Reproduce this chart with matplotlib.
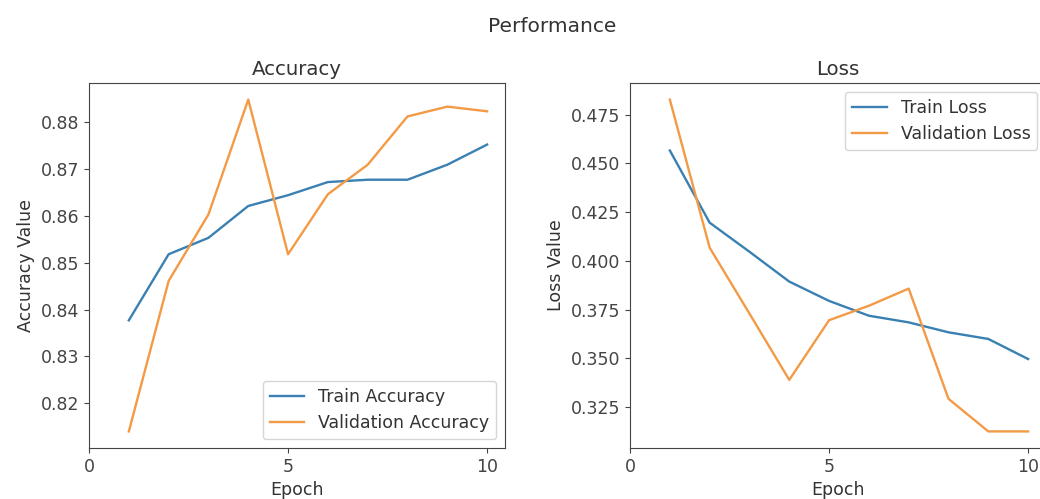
import matplotlib
matplotlib.use("Agg")
import matplotlib.pyplot as plt

epochs = [1, 2, 3, 4, 5, 6, 7, 8, 9, 10]
train_acc = [0.8377, 0.8518, 0.8553, 0.8621, 0.8644, 0.8672, 0.8677, 0.8677, 0.8709, 0.8752]
val_acc = [0.8140, 0.8461, 0.8603, 0.8848, 0.8518, 0.8646, 0.8709, 0.8812, 0.8833, 0.8823]
train_loss = [0.4566, 0.4196, 0.4047, 0.3894, 0.3795, 0.3719, 0.3685, 0.3634, 0.3600, 0.3497]
val_loss = [0.4827, 0.4068, 0.3730, 0.3390, 0.3696, 0.3770, 0.3858, 0.3293, 0.3126, 0.3126]

text_color = "#333333"
plt.rcParams.update({
    'font.size': 12.5,
    'text.color': text_color,
    'axes.labelcolor': text_color,
    'xtick.color': '#444444',
    'ytick.color': '#444444',
    'axes.edgecolor': '#444444',
})
blue = "#3a80b3"
orange = "#f39a46"

fig = plt.figure(figsize=(10.4, 4.99), dpi=100)
fig.suptitle("Performance", x=0.531, y=0.965, fontsize=14.5)

ax1 = fig.add_axes([0.0856, 0.1022, 0.40, 0.7315])
ax2 = fig.add_axes([0.6058, 0.1022, 0.40, 0.7315])

lw = 1.7
ax1.plot(epochs, train_acc, color=blue, lw=lw, label="Train Accuracy")
ax1.plot(epochs, val_acc, color=orange, lw=lw, label="Validation Accuracy")
ax1.set_xlim(left=0)
ax1.set_xticks([0, 5, 10])
ax1.set_title("Accuracy", fontsize=14.2)
ax1.set_xlabel("Epoch")
ax1.set_ylabel("Accuracy Value")
ax1.legend(loc="lower right")

ax2.plot(epochs, train_loss, color=blue, lw=lw, label="Train Loss")
ax2.plot(epochs, val_loss, color=orange, lw=lw, label="Validation Loss")
ax2.set_xlim(left=0)
ax2.set_xticks([0, 5, 10])
ax2.set_title("Loss", fontsize=14.2)
ax2.set_xlabel("Epoch")
ax2.set_ylabel("Loss Value")
ax2.legend(loc="upper right")

fig.savefig("out.png", dpi=100)
